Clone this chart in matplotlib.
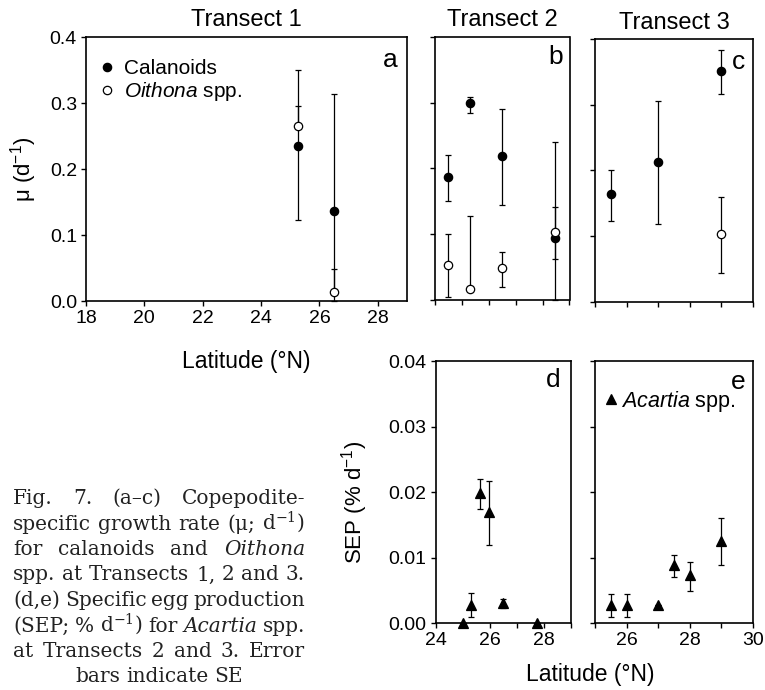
import numpy as np
import matplotlib
matplotlib.use("Agg")
from matplotlib import pyplot as plt

plt.rcParams["font.family"] = ["Liberation Sans", "DejaVu Sans"]
plt.rcParams["mathtext.fontset"] = "custom"
plt.rcParams["mathtext.rm"] = "Liberation Sans"
plt.rcParams["mathtext.it"] = "Liberation Sans:italic"
plt.rcParams["axes.linewidth"] = 1.2
plt.rcParams["xtick.major.width"] = 1.0
plt.rcParams["ytick.major.width"] = 1.0
plt.rcParams["xtick.major.size"] = 3.5
plt.rcParams["ytick.major.size"] = 3.5
plt.rcParams["xtick.labelsize"] = 14
plt.rcParams["ytick.labelsize"] = 14

# ---- data ----
# panel a, Transect 1
lat_a = [25.25, 26.5]
cal_a = [0.235, 0.137]
cal_a_lo = [0.122, 0.0]
cal_a_hi = [0.295, 0.313]
oit_a = [0.265, 0.013]
oit_a_lo = [0.265, 0.013]
oit_a_hi = [0.350, 0.049]

# panel b, Transect 2
lat_b = [24.47, 25.3, 26.48, 28.47]
cal_b = [0.187, 0.299, 0.219, 0.095]
cal_b_lo = [0.151, 0.285, 0.144, 0.062]
cal_b_hi = [0.220, 0.309, 0.290, 0.142]
oit_b = [0.053, 0.017, 0.048, 0.104]
oit_b_lo = [0.004, 0.017, 0.020, 0.0]
oit_b_hi = [0.100, 0.128, 0.073, 0.240]

# panel c, Transect 3
lat_c = [25.5, 27.0, 29.0]
cal_c = [0.164, 0.213, 0.351]
cal_c_lo = [0.123, 0.118, 0.316]
cal_c_hi = [0.201, 0.305, 0.384]
lat_c_oit = [29.0]
oit_c = [0.103]
oit_c_lo = [0.044]
oit_c_hi = [0.160]

# panel d, SEP Transect 2
lat_d = [25.0, 25.31, 25.64, 25.98, 26.5, 27.75]
sep_d = [0.0, 0.0028, 0.0198, 0.0169, 0.0031, 0.0]
sep_d_lo = [0.0, 0.0009, 0.0174, 0.0119, 0.0024, 0.0]
sep_d_hi = [0.0, 0.0046, 0.0220, 0.0217, 0.0037, 0.0]

# panel e, SEP Transect 3
lat_e = [25.5, 26.0, 27.0, 27.5, 28.0, 29.0]
sep_e = [0.0028, 0.0028, 0.0028, 0.0089, 0.0073, 0.0125]
sep_e_lo = [0.0010, 0.0010, 0.0028, 0.0071, 0.0050, 0.0089]
sep_e_hi = [0.0044, 0.0044, 0.0028, 0.0104, 0.0093, 0.0160]

caption = [
    "Fig. 7. (a–c) Copepodite-",
    "specific growth rate (μ; d$^{-1}$)",
    "for calanoids and Oithona",
    "spp. at Transects 1, 2 and 3.",
    "(d,e) Specific egg production",
    "(SEP; % d$^{-1}$) for Acartia spp.",
    "at Transects 2 and 3. Error",
    "bars indicate SE",
]
italic_words = ["Oithona", "Acartia"]

W, H = 765, 690


def box(l, t, r, b):
    return [l / W, 1 - b / H, (r - l) / W, (b - t) / H]


def series(ax, x, y, lo, hi, marker, filled, ms, label=None):
    y = np.array(y)
    err = [y - np.array(lo), np.array(hi) - y]
    ax.errorbar(x, y, yerr=err, fmt="none", ecolor="black", elinewidth=0.9,
                capsize=2, capthick=0.9, zorder=2, clip_on=False)
    ax.plot(x, y, linestyle="none", marker=marker, markersize=ms,
            markerfacecolor="black" if filled else "white",
            markeredgecolor="black", markeredgewidth=0.9, zorder=3,
            clip_on=False, label=label)


fig = plt.figure(figsize=(W / 100, H / 100), dpi=100)

ax_a = fig.add_axes(box(86, 37, 407, 301))
ax_b = fig.add_axes(box(435, 37, 569.5, 300))
ax_c = fig.add_axes(box(595, 39, 753, 301.7))
ax_d = fig.add_axes(box(435.7, 361, 570.7, 623.3))
ax_e = fig.add_axes(box(595, 361, 752.7, 623.3))

series(ax_a, lat_a, cal_a, cal_a_lo, cal_a_hi, "o", True, 6, "Calanoids")
series(ax_a, lat_a, oit_a, oit_a_lo, oit_a_hi, "o", False, 6, "$\\mathit{Oithona}$ spp.")
series(ax_b, lat_b, cal_b, cal_b_lo, cal_b_hi, "o", True, 6)
series(ax_b, lat_b, oit_b, oit_b_lo, oit_b_hi, "o", False, 6)
series(ax_c, lat_c, cal_c, cal_c_lo, cal_c_hi, "o", True, 6)
series(ax_c, lat_c_oit, oit_c, oit_c_lo, oit_c_hi, "o", False, 6)
series(ax_d, lat_d, sep_d, sep_d_lo, sep_d_hi, "^", True, 7)
series(ax_e, lat_e, sep_e, sep_e_lo, sep_e_hi, "^", True, 7, "$\\mathit{Acartia}$ spp.")

for ax in [ax_a, ax_b, ax_c]:
    ax.set_ylim(0, 0.4)
    ax.set_yticks([0, 0.1, 0.2, 0.3, 0.4])
for ax in [ax_d, ax_e]:
    ax.set_ylim(0, 0.04)
    ax.set_yticks([0, 0.01, 0.02, 0.03, 0.04])

ax_a.set_xlim(18, 29)
ax_a.set_xticks([18, 20, 22, 24, 26, 28])
ax_a.set_yticklabels(["0.0", "0.1", "0.2", "0.3", "0.4"])
for ax in [ax_b, ax_d]:
    ax.set_xlim(24, 29)
    ax.set_xticks([24, 25, 26, 27, 28, 29])
for ax in [ax_c, ax_e]:
    ax.set_xlim(25, 30)
    ax.set_xticks([25, 26, 27, 28, 29, 30])
ax_d.set_xticklabels(["24", "", "26", "", "28", ""])
ax_e.set_xticklabels(["", "26", "", "28", "", "30"])
ax_d.set_yticklabels(["0.00", "0.01", "0.02", "0.03", "0.04"])
for ax in [ax_b, ax_c]:
    ax.set_xticklabels([])
    ax.set_yticklabels([])
ax_e.set_yticklabels([])

for ax in [ax_a, ax_b, ax_c, ax_d, ax_e]:
    ax.tick_params(direction="out", pad=3)

ax_a.set_title("Transect 1", fontsize=17, pad=8)
ax_b.set_title("Transect 2", fontsize=17, pad=8)
ax_c.set_title("Transect 3", fontsize=17, pad=7)

ax_a.set_ylabel("μ (d$^{-1}$)", fontsize=16)
ax_a.yaxis.set_label_coords(-0.147, 0.5)
ax_a.set_xlabel("Latitude (°N)", fontsize=16.5)
ax_a.xaxis.set_label_coords(0.5, -0.186)
ax_d.set_ylabel("SEP (% d$^{-1}$)", fontsize=16)
ax_d.yaxis.set_label_coords(-0.49, 0.46)
fig.text(590 / W, 1 - 674 / H, "Latitude (°N)", fontsize=16.5, ha="center", va="center")

for ax, lab, x, y in [(ax_a, "a", 0.947, 0.913), (ax_b, "b", 0.897, 0.925),
                      (ax_c, "c", 0.907, 0.914), (ax_d, "d", 0.871, 0.928),
                      (ax_e, "e", 0.909, 0.921)]:
    ax.text(x, y, lab, transform=ax.transAxes, fontsize=19, ha="center", va="center")

ax_a.legend(loc="upper left", bbox_to_anchor=(0.034, 0.915), frameon=False,
            fontsize=15, handlelength=1.0, handletextpad=0.3, borderpad=0,
            borderaxespad=0, labelspacing=0.08)
ax_e.legend(loc="upper left", bbox_to_anchor=(0.06, 0.895), frameon=False,
            fontsize=15.5, handlelength=0.6, handletextpad=0.15, borderpad=0,
            borderaxespad=0)

# justified caption block
renderer = fig.canvas.get_renderer()
left, right = 13.3, 305.0
cap_fs = 14.5
while True:
    ok = True
    for line in caption[:-1]:
        words = line.split()
        tt = [fig.text(0, 0, w, fontsize=cap_fs, family="DejaVu Serif",
                       style="italic" if w in italic_words else "normal",
                       math_fontfamily="dejavuserif") for w in words]
        wsum = sum(t.get_window_extent(renderer).width for t in tt)
        for t in tt:
            t.remove()
        if wsum + 3 * (len(words) - 1) > right - left:
            ok = False
    if ok or cap_fs < 8:
        break
    cap_fs -= 0.25

for i, line in enumerate(caption):
    yb = 1 - (504 + i * 25.5) / H
    words = line.split()
    tt = [fig.text(0, yb, w, fontsize=cap_fs, family="DejaVu Serif",
                   style="italic" if w in italic_words else "normal",
                   math_fontfamily="dejavuserif", va="baseline", color="#222222")
          for w in words]
    widths = [t.get_window_extent(renderer).width for t in tt]
    if i == len(caption) - 1:
        space = 0.3 * cap_fs / 0.72
        total = sum(widths) + space * (len(words) - 1)
        x = (left + right) / 2 - total / 2
    else:
        space = (right - left - sum(widths)) / (len(words) - 1)
        x = left
    for t, w in zip(tt, widths):
        t.set_x(x / W)
        x += w + space

fig.savefig("out.png", dpi=100)
